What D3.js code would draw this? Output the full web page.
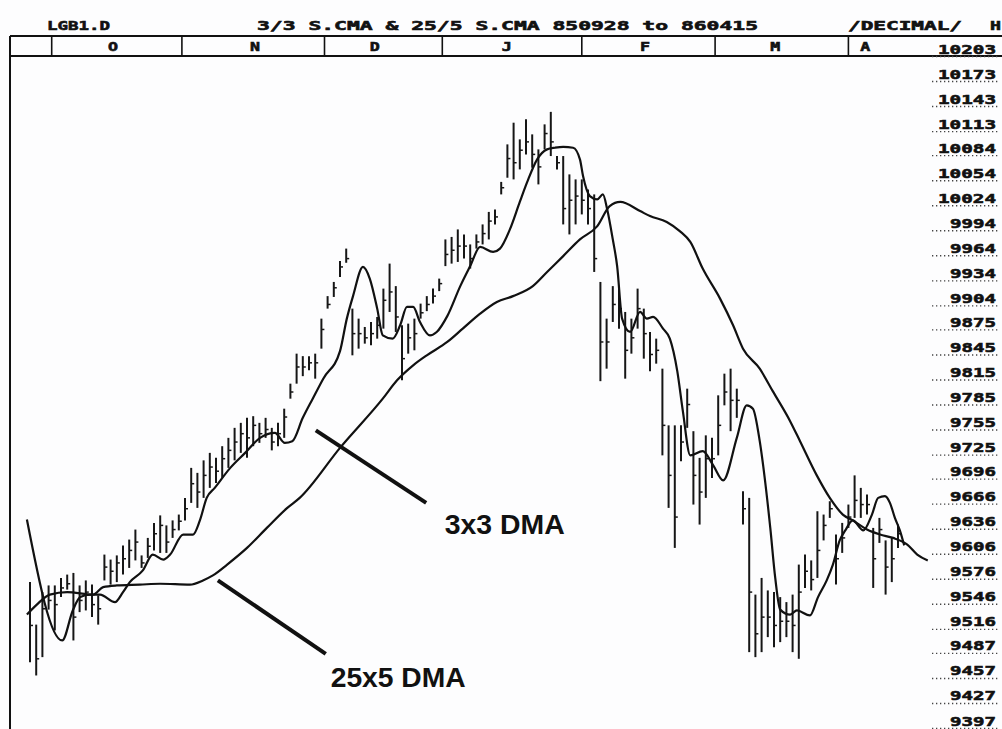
<!DOCTYPE html>
<html>
<head>
<meta charset="utf-8">
<script src="https://cdnjs.cloudflare.com/ajax/libs/d3/7.8.5/d3.min.js"></script>
<style>
body{margin:0;background:#fdfdfe;}
svg{display:block;}
.mono{font-family:"DejaVu Sans Mono",monospace;font-weight:bold;fill:#111;stroke:#111;stroke-width:0.6px;}
.note{font-family:"Liberation Sans",Arial,sans-serif;font-weight:bold;fill:#111;}
</style>
</head>
<body>
<div id="chart"></div>
<script>
// daily bars, LGB1 850928 - 860415 (one entry per trading day)
var highs=[9572,9521,9560,9568,9568,9577,9581,9583,9568,9574,
  9569,9556,9605,9599,9604,9616,9623,9635,9604,9625,
  9643,9652,9640,9646,9653,9673,9709,9703,9718,9727,
  9721,9735,9745,9757,9763,9769,9771,9763,9769,9757,
  9763,9780,9810,9846,9843,9843,9846,9888,9915,9932,
  9957,9972,9900,9888,9878,9884,9890,9924,9954,9927,
  9880,9882,9888,9906,9915,9924,9936,9983,9986,9995,
  9989,9977,9989,10001,10016,10019,10052,10097,10123,10103,
  10127,10109,10091,10121,10136,10083,10083,10061,10055,10055,
  10043,10037,9932,9888,9927,9924,9896,9888,9924,9900,
  9872,9864,9828,9760,9760,9760,9804,9753,9721,9748,
  9745,9796,9822,9828,9804,9681,9673,9557,9577,9562,
  9560,9554,9548,9557,9593,9605,9598,9657,9653,9669,
  9629,9643,9665,9700,9685,9677,9637,9649,9622,9625,
  9641];
var lows=[9476,9460,9482,9539,9514,9554,9563,9502,9536,9538,
  9530,9521,9574,9569,9572,9581,9589,9598,9589,9601,
  9610,9607,9607,9625,9634,9646,9667,9661,9673,9685,
  9691,9697,9709,9718,9727,9721,9735,9739,9745,9730,
  9735,9745,9792,9810,9819,9826,9816,9852,9900,9914,
  9938,9955,9844,9852,9858,9856,9864,9876,9896,9872,
  9814,9846,9850,9888,9897,9906,9921,9951,9954,9956,
  9960,9948,9972,9977,9983,10001,10037,10057,10055,10067,
  10085,10069,10049,10091,10083,10067,10001,9989,10001,10013,
  10001,9944,9813,9828,9884,9876,9816,9846,9876,9840,
  9825,9834,9724,9661,9613,9717,9757,9665,9641,9673,
  9697,9724,9784,9753,9769,9641,9488,9482,9488,9506,
  9494,9500,9506,9488,9480,9565,9562,9577,9622,9649,
  9569,9607,9637,9649,9649,9653,9565,9619,9557,9572,
  9613];
var closes=[9520,9480,9540,9550,9545,9565,9570,9530,9550,9560,
  9545,9540,9590,9585,9595,9600,9610,9620,9595,9615,
  9630,9640,9620,9635,9645,9660,9690,9680,9700,9710,
  9705,9720,9730,9740,9750,9745,9760,9750,9755,9740,
  9750,9770,9800,9830,9830,9835,9835,9875,9905,9925,
  9950,9960,9870,9870,9865,9870,9880,9910,9920,9890,
  9840,9865,9870,9895,9905,9915,9930,9965,9970,9975,
  9975,9960,9980,9990,10005,10010,10045,10080,10075,10090,
  10100,10085,10070,10110,10100,10075,10020,10030,10035,10030,
  10020,9960,9860,9860,9905,9900,9850,9865,9900,9870,
  9845,9850,9760,9700,9650,9740,9785,9700,9680,9720,
  9720,9760,9800,9790,9790,9660,9560,9510,9530,9530,
  9520,9525,9525,9520,9560,9585,9575,9610,9640,9660,
  9600,9625,9650,9670,9665,9665,9600,9635,9590,9600,
  9630];

// 3x3 displaced moving average (day position, value)
var ma3Day=[-0.5,5.2,6.9,8.1,9.7,11.3,13.7,15.0,16.1,18.2,19.8,21.5,22.6,24.7,26.3,27.4,28.5,29.8,32.3,34.7,
  37.1,39.5,41.1,42.3,44.0,45.6,47.3,50.0,51.1,52.1,53.7,54.8,56.0,56.9,58.5,59.7,60.8,61.8,62.9,64.5,
  65.6,67.3,69.4,71.0,72.6,74.7,75.8,77.4,79.0,80.2,81.8,83.4,84.7,86.0,87.6,88.7,89.2,90.3,91.5,92.4,
  93.1,94.0,94.7,95.5,96.8,98.4,99.5,100.5,102.1,103.2,104.4,105.3,106.5,108.5,110.2,111.8,114.0,115.6,116.6,117.7,
  118.5,119.4,120.2,121.0,122.6,123.7,125.8,127.1,128.5,129.5,130.6,131.5,132.7,134.4,135.8,136.8,137.9,138.7,139.5,140.3,
  141.0];
var ma3Val=[9647,9502,9538,9554,9557,9557,9548,9560,9572,9586,9605,9599,9605,9629,9629,9646,9673,9685,9709,9727,
  9745,9751,9739,9741,9769,9792,9816,9849,9888,9915,9950,9936,9900,9868,9864,9880,9902,9902,9884,9868,
  9872,9891,9927,9951,9974,9968,9972,9995,10028,10052,10079,10091,10093,10094,10093,10079,10059,10035,10031,10037,
  10019,9983,9951,9888,9872,9896,9888,9890,9876,9864,9825,9777,9724,9729,9712,9694,9745,9784,9780,9741,
  9697,9637,9577,9539,9533,9538,9532,9554,9574,9593,9622,9634,9646,9634,9653,9673,9675,9667,9649,9634,
  9616];

// 25x5 displaced moving average
var ma25Day=[-0.5,1.1,3.2,6.0,10.2,11.8,14.0,17.7,21.0,25.8,27.9,29.5,31.8,35.0,38.2,41.5,43.5,50.0,56.9,59.2,
  61.8,64.0,67.3,69.8,72.6,75.3,77.9,81.1,83.4,86.0,88.7,91.5,93.5,95.2,98.4,100.0,102.7,104.8,106.5,108.5,
  111.3,113.4,115.0,117.7,119.8,122.6,124.2,126.9,129.0,131.1,132.7,135.0,137.1,139.2,141.5,143.1,144.8];
var ma25Val=[9533,9545,9557,9560,9557,9566,9568,9569,9570,9569,9574,9580,9593,9613,9637,9661,9673,9733,9792,9814,
  9832,9844,9860,9876,9894,9908,9915,9927,9944,9963,9983,9999,10023,10028,10017,10011,10004,9993,9980,9948,
  9912,9880,9852,9828,9801,9765,9741,9700,9673,9653,9646,9635,9629,9625,9617,9605,9598];

var monthNames=["O","N","D","J","F","M","A"];
var monthStart=[3.5,24.5,47.5,66.5,89,110.5,132];
var monthLabelDay=[12.6,35.5,54.8,76.1,98.4,119.4,133.9];

var tickLabels=["10203","10173","10143","10113","10084","10054","10024","9994","9964","9934",
  "9904","9875","9845","9815","9785","9755","9725","9696","9666","9636",
  "9606","9576","9546","9516","9487","9457","9427","9397"];

var W=1002, H=729;
var bandTop=36, bandBot=56, leftX=10;

var svg=d3.select("#chart").append("svg")
  .attr("width",W).attr("height",H);

svg.append("rect").attr("width",W).attr("height",H).attr("fill","#fdfdfe");

var x=d3.scaleLinear().domain([0,140]).range([30,898]);
var y=d3.scaleLinear().domain([9397,10203]).range([728,56]);

// header
function monoText(str,x0,yb,len,size){
  svg.append("text").attr("class","mono")
    .attr("x",x0).attr("y",yb)
    .attr("font-size",size||13)
    .attr("textLength",len).attr("lengthAdjust","spacingAndGlyphs")
    .text(str);
}
monoText("LGB1.D",47,30,63);
monoText("3/3 S.CMA & 25/5 S.CMA  850928 to 860415",257,30,501);
monoText("/DECIMAL/",848,30,114);
monoText("H",990,30,11);

// month band
svg.append("line").attr("x1",leftX).attr("x2",W).attr("y1",bandTop).attr("y2",bandTop)
  .attr("stroke","#111").attr("stroke-width",2);
svg.append("line").attr("x1",leftX).attr("x2",W).attr("y1",bandBot).attr("y2",bandBot)
  .attr("stroke","#111").attr("stroke-width",2);
svg.append("line").attr("x1",leftX).attr("x2",leftX).attr("y1",bandTop).attr("y2",H)
  .attr("stroke","#111").attr("stroke-width",2);

svg.selectAll(".div").data(monthStart).enter().append("line")
  .attr("class","div")
  .attr("x1",function(d){return x(d);}).attr("x2",function(d){return x(d);})
  .attr("y1",bandTop).attr("y2",bandBot)
  .attr("stroke","#111").attr("stroke-width",1.6);

svg.selectAll(".mon").data(monthNames).enter().append("text")
  .attr("class","mono")
  .attr("x",function(d,i){return x(monthLabelDay[i]);})
  .attr("y",51)
  .attr("font-size",13)
  .attr("textLength",10).attr("lengthAdjust","spacingAndGlyphs")
  .text(function(d){return d;});

// right price axis with dotted leaders
var tickVals=tickLabels.map(function(d){return +d;});
var yAxis=d3.axisRight(y).tickValues(tickVals).tickSize(66).tickFormat(function(d,i){return tickLabels[i];});
var ax=svg.append("g").attr("transform","translate(932,0)").call(yAxis);
ax.select(".domain").remove();
ax.selectAll(".tick line")
  .attr("stroke","#444").attr("stroke-width",1.3).attr("stroke-dasharray","1.3,2.7");
ax.selectAll(".tick text")
  .attr("class","mono")
  .attr("font-size",13)
  .attr("text-anchor","start")
  .attr("dy",0)
  .attr("y",-3)
  .attr("x",function(d,i){return 66-tickLabels[i].length*12;})
  .attr("textLength",function(d,i){return tickLabels[i].length*12-2;})
  .attr("lengthAdjust","spacingAndGlyphs")
  .style("font-family","'DejaVu Sans Mono',monospace")
  .style("font-weight","bold");

// plot
svg.append("clipPath").attr("id","clip").append("rect")
  .attr("x",leftX+1).attr("y",bandBot+1).attr("width",925).attr("height",H-bandBot);
var plot=svg.append("g").attr("clip-path","url(#clip)");

var days=d3.range(highs.length);
plot.selectAll(".bar").data(days).enter().append("line")
  .attr("class","bar")
  .attr("x1",function(i){return x(i);}).attr("x2",function(i){return x(i);})
  .attr("y1",function(i){return y(highs[i]);}).attr("y2",function(i){return y(lows[i]);})
  .attr("stroke","#161616").attr("stroke-width",2);
plot.selectAll(".cls").data(days).enter().append("line")
  .attr("class","cls")
  .attr("x1",function(i){return x(i);}).attr("x2",function(i){return x(i)+3;})
  .attr("y1",function(i){return y(closes[i]);}).attr("y2",function(i){return y(closes[i]);})
  .attr("stroke","#161616").attr("stroke-width",1.5);

var line=d3.line()
  .x(function(d){return x(d[0]);})
  .y(function(d){return y(d[1]);})
  .curve(d3.curveMonotoneX);

plot.append("path").datum(d3.zip(ma25Day,ma25Val))
  .attr("d",line).attr("fill","none").attr("stroke","#111").attr("stroke-width",2.2);
plot.append("path").datum(d3.zip(ma3Day,ma3Val))
  .attr("d",line).attr("fill","none").attr("stroke","#111").attr("stroke-width",2.2);

// annotations
var pointers=[
  {from:[46.1,9754],to:[63.9,9667]},
  {from:[30.3,9574],to:[47.7,9486]}
];
svg.selectAll(".ptr").data(pointers).enter().append("line")
  .attr("class","ptr")
  .attr("x1",function(d){return x(d.from[0]);}).attr("y1",function(d){return y(d.from[1]);})
  .attr("x2",function(d){return x(d.to[0]);}).attr("y2",function(d){return y(d.to[1]);})
  .attr("stroke","#111").attr("stroke-width",4);

var notes=[{t:"3x3 DMA",day:66.9,v:9630,len:120},{t:"25x5 DMA",day:48.5,v:9446,len:135}];
svg.selectAll(".note").data(notes).enter().append("text")
  .attr("class","note")
  .attr("x",function(d){return x(d.day);})
  .attr("y",function(d){return y(d.v);})
  .attr("font-size",28)
  .attr("textLength",function(d){return d.len;})
  .attr("lengthAdjust","spacingAndGlyphs")
  .text(function(d){return d.t;});
</script>
</body>
</html>
